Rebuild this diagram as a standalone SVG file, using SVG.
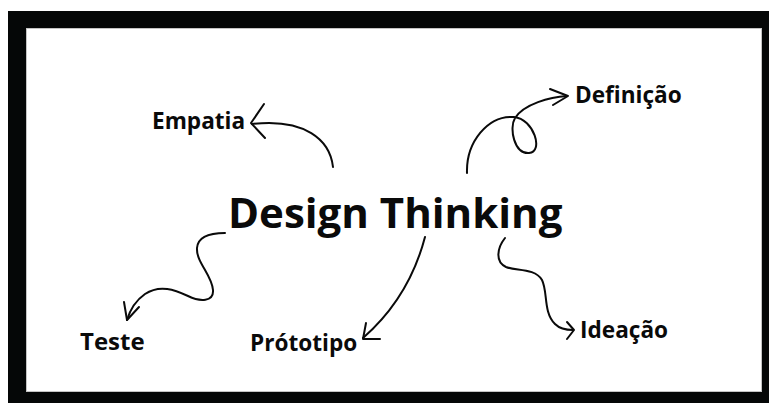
<svg xmlns="http://www.w3.org/2000/svg" width="769" height="403" viewBox="0 0 769 403">
  <style>
    .label { font-family: "Open Sans", "Liberation Sans", sans-serif; font-weight: 700; fill: #0a0a0a; }
    .title { font-size: 42px; }
    .small { font-size: 22.6px; }
    .link { fill: none; stroke: #0a0a0a; stroke-width: 2; stroke-linecap: round; stroke-linejoin: round; }
  </style>

  <!-- frame -->
  <rect x="0" y="0" width="769" height="403" fill="#ffffff"/>
  <rect x="8" y="11" width="761" height="392" fill="#050707"/>
  <rect x="26.5" y="28.5" width="735" height="363" fill="#ffffff" stroke="#c4c4c4" stroke-width="1"/>

  <!-- hand-drawn connectors -->
  <g id="connectors">
    <!-- to Empatia -->
    <path class="link" d="M333,167 C330,140 305,118 252,124"/>
    <path class="link" d="M264,104 L251,123 L265,138"/>
    <!-- to Definição (with a loop) -->
    <path class="link" stroke-width="2.2" d="M467,173 C466,142 488,115 514,117 C534,119 544,152 529,153 C514,154 509,128 515,118 C524,104 550,97 567,96"/>
    <path class="link" d="M550,89 L568,96 L553,105"/>
    <!-- to Teste -->
    <path class="link" d="M225,233 C212,233 198,235 197,248 C196,262 212,275 213,290 C214,302 200,302 188,296 C175,290 160,284 145,294 C135,301 130,310 127,320"/>
    <path class="link" d="M124,302 L127,320 L139,307"/>
    <!-- to Prótotipo -->
    <path class="link" stroke-width="1.6" d="M425,237 C415,275 395,310 363,338"/>
    <path class="link" stroke-width="1.6" d="M366,323 L363,339 L380,339"/>
    <!-- to Ideação -->
    <path class="link" d="M505,238 C497,248 495,262 506,267 C516,271 535,268 542,280 C548,292 543,312 555,324 C560,329 566,330 573,330"/>
    <path class="link" d="M567,322 L574,330 L567,339"/>
  </g>

  <g id="node-design-thinking">
    <text class="label title" x="228" y="228">Design Thinking</text>
  </g>
  <g id="node-empatia">
    <text class="label small" x="152" y="129">Empatia</text>
  </g>
  <g id="node-definicao">
    <text class="label small" x="575" y="103">Definição</text>
  </g>
  <g id="node-teste">
    <text class="label small" x="80" y="350" style="font-size:24px">Teste</text>
  </g>
  <g id="node-prototipo">
    <text class="label small" x="250" y="351">Prótotipo</text>
  </g>
  <g id="node-ideacao">
    <text class="label small" x="580" y="338">Ideação</text>
  </g>
</svg>
